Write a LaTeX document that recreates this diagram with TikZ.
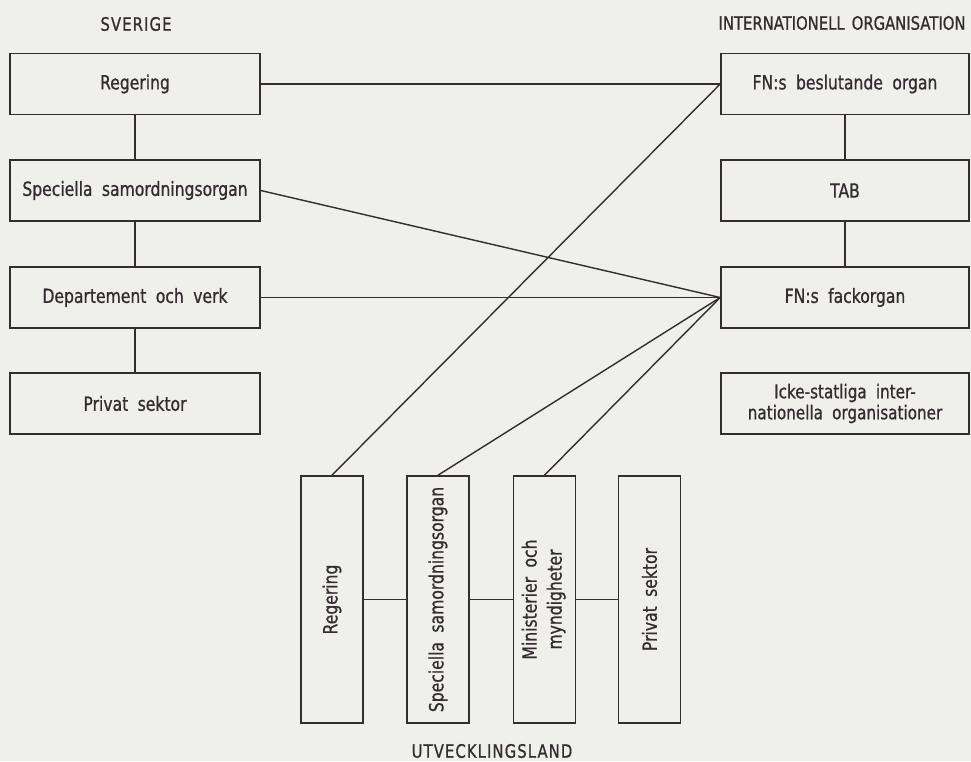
\documentclass[tikz,border=0pt]{standalone}
\usepackage{fontspec}
\setmainfont{DejaVu Sans}[FakeStretch=0.8,WordSpace=1.9,FakeBold=0.8]
\newfontfamily\hdfont{DejaVu Sans}[FakeStretch=0.8,WordSpace=1.5,FakeBold=0.8]
\newfontfamily\hdwidefont{DejaVu Sans}[FakeStretch=0.8,FakeBold=0.8,LetterSpace=6]
\definecolor{ink}{HTML}{332C30}
\definecolor{paper}{HTML}{EFEFEC}
\begin{document}
\begin{tikzpicture}[x=1pt,y=-1pt,
  box/.style={draw=ink, line width=1.6pt, inner sep=0pt, text=ink,
    font=\fontsize{19.5}{23}\selectfont},
  hbox/.style={box, minimum width=250pt, minimum height=61pt},
  vbox/.style={box, minimum width=62pt, minimum height=247pt},
  link/.style={draw=ink, line width=1.4pt},
  head/.style={text=ink, inner sep=0pt, font=\hdfont\fontsize{18.5}{20}\selectfont},
  widehead/.style={head, font=\hdwidefont\fontsize{18.5}{20}\selectfont}]
\fill[paper] (0,0) rectangle (971,761);
\useasboundingbox (0,0) rectangle (971,761);
% headings
\node[widehead] (sv) at (136,24) {SVERIGE};
\node[head] (io) at (842,23) {INTERNATIONELL ORGANISATION};
\node[widehead] (ul) at (492,751) {UTVECKLINGSLAND};
% Sverige column
\node[hbox] (sreg) at (135,84) {Regering};
\node[hbox] (ssam) at (135,190.5) {Speciella samordningsorgan};
\node[hbox] (sdep) at (135,297.5) {Departement och verk};
\node[hbox] (spri) at (135,403.5) {Privat sektor};
% international column
\node[hbox, minimum width=248pt] (ifn) at (845,84) {FN:s beslutande organ};
\node[hbox, minimum width=248pt] (itab) at (845,190.5) {TAB};
\node[hbox, minimum width=248pt] (ifack) at (845,297.5) {FN:s fackorgan};
\node[hbox, minimum width=248pt, align=center, font=\fontsize{19}{21}\selectfont] (icke) at (845,403.5)
  {Icke-statliga inter-\\nationella organisationer};
% developing country row
\node[vbox] (ureg) at (332,599.5) {\rotatebox{90}{Regering}};
\node[vbox] (usam) at (438,599.5) {\rotatebox{90}{Speciella samordningsorgan}};
\node[vbox] (umin) at (544.5,599.5) {\rotatebox{90}{\begin{tabular}{@{}c@{}}Ministerier och\\[2pt]myndigheter\end{tabular}}};
\node[vbox] (upri) at (649.5,599.5) {\rotatebox{90}{Privat sektor}};
% vertical links
\draw[link] (sreg.south) -- (ssam.north);
\draw[link] (ssam.south) -- (sdep.north);
\draw[link] (sdep.south) -- (spri.north);
\draw[link] (ifn.south) -- (itab.north);
\draw[link] (itab.south) -- (ifack.north);
% cross links
\draw[link] (sreg.east) -- (ifn.west);
\draw[link] (ssam.east) -- (ifack.west);
\draw[link] (sdep.east) -- (ifack.west);
\draw[link] (ureg.north) -- (ifn.west);
\draw[link] (usam.north) -- (ifack.west);
\draw[link] (umin.north) -- (ifack.west);
% bottom chain
\draw[link] (ureg.east) -- (usam.west);
\draw[link] (usam.east) -- (umin.west);
\draw[link] (umin.east) -- (upri.west);
\end{tikzpicture}
\end{document}
